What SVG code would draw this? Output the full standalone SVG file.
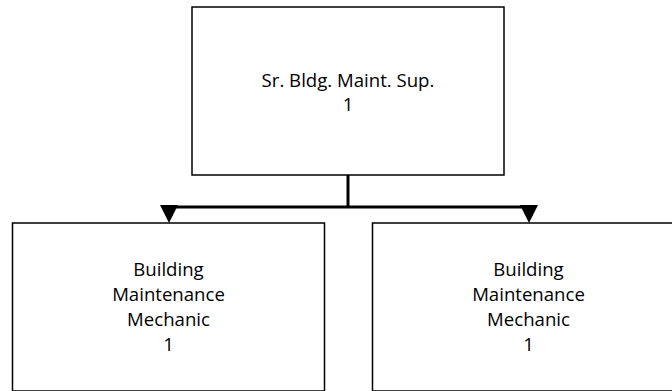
<svg xmlns="http://www.w3.org/2000/svg" width="672" height="391" viewBox="0 0 672 391">
<defs>
<style>
.box{fill:#fff;stroke:#000;stroke-width:1.5}
.lbl{font-family:"Open Sans","Noto Sans","Liberation Sans",sans-serif;font-size:18.6px;fill:#000;text-anchor:middle}
.conn{fill:none;stroke:#000;stroke-width:3}
</style>
</defs>
<rect width="672" height="391" fill="#fff"/>
<g id="connectors">
<path class="conn" d="M348,175 V207"/>
<path class="conn" d="M348,207 H169"/>
<path class="conn" d="M348,207 H529"/>
<path d="M160,205 L178,205 L169,223 Z" fill="#000"/>
<path d="M520,205 L538,205 L529,223 Z" fill="#000"/>
</g>
<g id="node-sup">
<rect class="box" x="192" y="7" width="312" height="168"/>
<text class="lbl" x="348" y="87">Sr. Bldg. Maint. Sup.</text>
<text class="lbl" x="348" y="111">1</text>
</g>
<g id="node-mech1">
<rect class="box" x="12.5" y="223" width="312" height="168"/>
<text class="lbl" x="168.5" y="276">Building</text>
<text class="lbl" x="168.5" y="301">Maintenance</text>
<text class="lbl" x="168.5" y="326">Mechanic</text>
<text class="lbl" x="168.5" y="351">1</text>
</g>
<g id="node-mech2">
<rect class="box" x="372.5" y="223" width="312" height="168"/>
<text class="lbl" x="528.5" y="276">Building</text>
<text class="lbl" x="528.5" y="301">Maintenance</text>
<text class="lbl" x="528.5" y="326">Mechanic</text>
<text class="lbl" x="528.5" y="351">1</text>
</g>
</svg>
